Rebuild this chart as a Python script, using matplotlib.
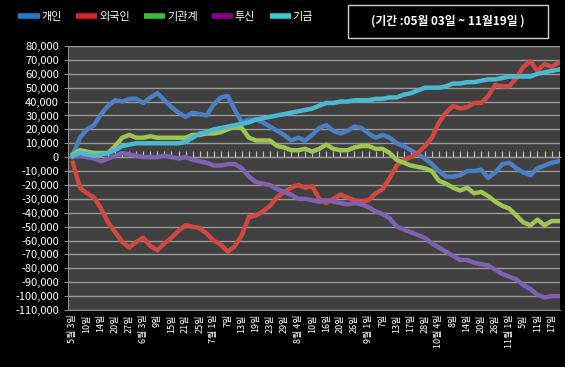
import numpy as np
import matplotlib.pyplot as plt
from matplotlib.lines import Line2D
from matplotlib.patches import Rectangle
from matplotlib.ticker import FuncFormatter

plt.rcParams['font.family'] = ['Noto Sans CJK KR', 'DejaVu Sans']

series_names = ['개인', '외국인', '기관계', '투신', '기금']

# x tick labels (every 2 points)
date_labels = ['5월 3일', '10일', '14일', '20일', '27일', '6월 3일', '9일', '15일', '21일',
               '25일', '7월 1일', '7일', '13일', '19일', '23일', '29일', '8월 4일', '10일',
               '16일', '20일', '26일', '9월 1일', '7일', '13일', '17일', '28일', '10월 4일',
               '8일', '14일', '20일', '26일', '11월 1일', '5일', '11일', '17일']

# values in thousands
gaein = [2, 14, 20, 23, 31, 37, 41, 40, 42, 42, 39, 43, 46, 41, 36, 32, 29, 32, 31, 30,
         38, 43, 44, 34, 25, 27, 27, 25, 22, 19, 16, 12, 14, 12, 16, 21, 23, 19, 17, 19,
         22, 21, 17, 14, 16, 14, 10, 8, 5, 2, -1, -5, -10, -14, -14, -13, -10, -10, -9, -15,
         -11, -5, -4, -8, -11, -13, -8, -6, -4, -3]
foreign = [-4, -22, -26, -29, -37, -47, -54, -61, -65, -61, -58, -64, -67, -62, -58, -53, -49, -50, -51, -55,
           -60, -63, -68, -64, -56, -43, -42, -39, -35, -29, -25, -22, -20, -22, -21, -30, -33, -30, -27, -29,
           -31, -32, -31, -26, -23, -15, -6, -2, 0, 3, 8, 14, 25, 32, 37, 35, 36, 39, 39, 44,
           52, 51, 51, 57, 65, 69, 62, 67, 65, 68]
institution = [2, 5, 4, 3, 3, 3, 8, 14, 16, 14, 14, 15, 14, 14, 14, 14, 14, 16, 16, 17,
               17, 18, 20, 22, 21, 14, 12, 12, 12, 8, 7, 5, 5, 6, 4, 6, 9, 6, 5, 5,
               7, 8, 8, 6, 6, 3, -2, -4, -6, -7, -8, -10, -17, -19, -22, -24, -22, -26, -25, -28,
               -32, -35, -37, -42, -47, -49, -45, -49, -46, -46]
trust = [0, 1, 0, -1, -3, -1, 1, 3, 2, 1, 0, 0, 0, 1, 0, -1, 0, -2, -3, -4,
         -6, -6, -5, -5, -8, -14, -18, -19, -20, -23, -25, -27, -30, -30, -31, -32, -31, -32, -33, -34,
         -33, -34, -36, -39, -41, -44, -50, -52, -54, -56, -58, -62, -65, -68, -71, -74, -74, -76, -77, -78,
         -81, -84, -86, -88, -92, -95, -99, -101, -100, -100]
fund = [1, 3, 2, 1, 2, 3, 5, 8, 9, 10, 10, 10, 10, 10, 10, 10, 11, 14, 17, 18,
        20, 21, 22, 23, 24, 25, 27, 28, 29, 30, 31, 32, 33, 34, 35, 37, 39, 39, 40, 40,
        41, 41, 41, 42, 42, 43, 43, 45, 46, 48, 50, 50, 50, 51, 53, 53, 54, 54, 55, 56,
        56, 57, 58, 58, 58, 58, 60, 61, 62, 63]

line_colors = ['#4a7fc4', '#d0483f', '#9cc650', '#8060b0', '#4bb8d2']
legend_colors = ['#1f80d0', '#e02020', '#3cbc3c', '#8a008a', '#30d0d0']

fig = plt.figure(figsize=(5.65, 3.67), dpi=100, facecolor='black')
ax = fig.add_axes([68 / 565, 57 / 367, 492 / 565, 264 / 367])
ax.set_facecolor('#404040')

x = np.arange(len(gaein))
for vals, c in zip([gaein, foreign, institution, trust, fund], line_colors):
    ax.plot(x, np.array(vals) * 1000, color=c, lw=3.2, solid_joinstyle='round')

ax.set_ylim(-110000, 80000)
ax.set_xlim(-0.7, 69.2)
ax.set_yticks(np.arange(-110000, 80001, 10000))
ax.yaxis.set_major_formatter(FuncFormatter(lambda v, p: f'{int(v):,}'))
ax.grid(axis='y', color='#9a9a9a', lw=1)
ax.set_axisbelow(True)
ax.tick_params(axis='y', colors='white', labelsize=8, length=3, color='#909090')

ax.set_xticks(np.arange(0, len(x), 2))
ax.set_xticklabels(date_labels, rotation=90, fontsize=6.5, color='white', va='top')
ax.tick_params(axis='x', length=0, pad=3)

for s in ['top', 'right']:
    ax.spines[s].set_visible(False)
ax.spines['left'].set_color('#909090')
ax.spines['bottom'].set_color('#909090')

# small tick marks along zero line
zero_ax = ax.secondary_xaxis(0, transform=ax.transData)
zero_ax.set_xticks(x)
zero_ax.set_xticklabels([])
zero_ax.tick_params(axis='x', direction='in', length=4, color='#c8c8c8', width=0.8)
zero_ax.spines['bottom'].set_color('#c8c8c8')

handles = [Line2D([0], [0], color=c, lw=4, solid_capstyle='butt') for c in legend_colors]
leg = fig.legend(handles, series_names, loc='upper left', bbox_to_anchor=(0.015, 0.995),
                 ncol=5, frameon=False, fontsize=8, handlelength=1.9, handletextpad=0.15,
                 columnspacing=1.3)
for t in leg.get_texts():
    t.set_color('white')

fig.patches.append(Rectangle((348 / 565, 1 - 38 / 367), 200 / 565, 33 / 367,
                             transform=fig.transFigure, facecolor='black',
                             edgecolor='#d0d0d0', lw=1))
fig.text(448 / 565, 1 - 21.5 / 367, '(기간 :05월 03일 ~ 11월19일 )', color='white',
         fontsize=8.5, fontweight='bold', ha='center', va='center')

fig.savefig('out.png', dpi=100, facecolor='black')
